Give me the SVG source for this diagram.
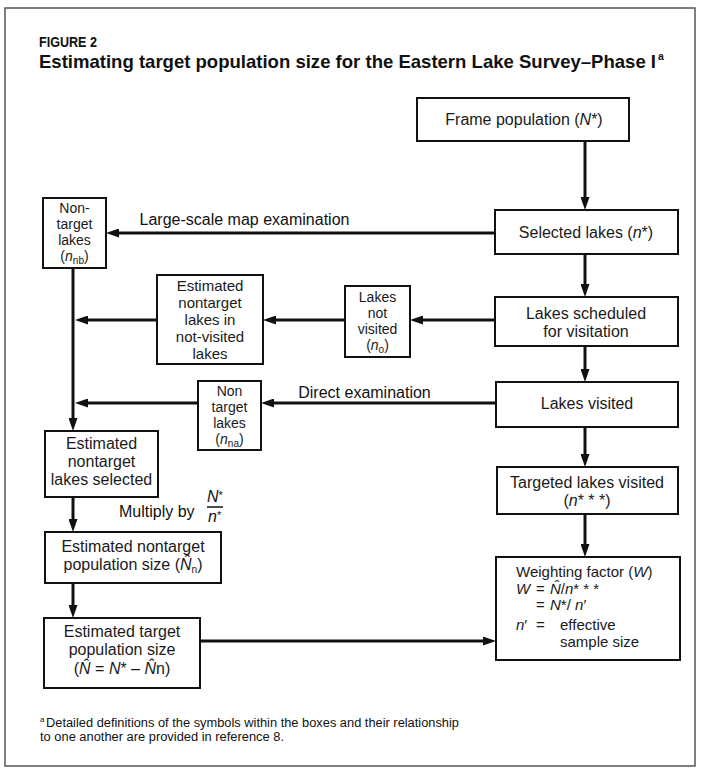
<svg xmlns="http://www.w3.org/2000/svg" width="702" height="768" viewBox="0 0 702 768">
<style>
.t{font-family:"Liberation Sans",Arial,Helvetica,sans-serif;font-size:16px;fill:#1a1a1a;text-anchor:middle}
.s{font-size:15px}
.xs{font-size:14px}
.l{font-family:"Liberation Sans",Arial,Helvetica,sans-serif;font-size:15px;fill:#1a1a1a}
.lab{font-family:"Liberation Sans",Arial,Helvetica,sans-serif;font-size:16px;fill:#111}
.i{font-style:italic}
.sub{font-size:10px}
.box{fill:#fff;stroke:#111;stroke-width:2}
.c{fill:none;stroke:#111;stroke-width:3;marker-end:url(#ah)}
.h{font-family:"Liberation Sans",Arial,Helvetica,sans-serif;font-weight:bold;fill:#111}
.fn{font-family:"Liberation Sans",Arial,Helvetica,sans-serif;font-size:12px;fill:#111}
</style>
<defs>
<marker id="ah" markerUnits="userSpaceOnUse" viewBox="0 0 13 9" markerWidth="13" markerHeight="9" refX="0.5" refY="4.5" orient="auto">
<path d="M0,0 L13,4.5 L0,9 Z" fill="#111"/>
</marker>
</defs>
<rect x="0" y="0" width="702" height="768" fill="#fff"/>
<rect x="5" y="8" width="690" height="758" fill="none" stroke="#555" stroke-width="1.5"/>

<g id="title">
<text class="h" x="39" y="47" font-size="14" textLength="58" lengthAdjust="spacingAndGlyphs">FIGURE 2</text>
<text class="h" x="39" y="68" font-size="18.5" textLength="617" lengthAdjust="spacingAndGlyphs">Estimating target population size for the Eastern Lake Survey–Phase I</text>
<text class="h" x="658" y="60" font-size="10.5">a</text>
</g>

<g id="connectors">
<path class="c" d="M585,141 V197.5"/>
<path class="c" d="M585,254 V284.5"/>
<path class="c" d="M585,346 V369.5"/>
<path class="c" d="M585,427 V454.5"/>
<path class="c" d="M585,514 V544.5"/>
<path class="c" d="M495,233 H118.5"/>
<path class="c" d="M495,320 H422.5"/>
<path class="c" d="M345,320 H275.5"/>
<path class="c" d="M157,320 H87.5"/>
<path class="c" d="M496,403 H273.5"/>
<path class="c" d="M198,403 H87.5"/>
<path class="c" d="M73,268 V418.5"/>
<path class="c" d="M73,497 V519.5"/>
<path class="c" d="M73,583 V605.5"/>
<path class="c" d="M200,641 H483.5"/>
<text class="lab" x="244.5" y="225" text-anchor="middle">Large-scale map examination</text>
<text class="lab" x="364.5" y="398" text-anchor="middle">Direct examination</text>
<g id="multiply">
<text class="lab" x="119" y="517">Multiply by</text>
<text class="lab i" x="207" y="502" font-size="15">N<tspan font-style="normal" font-size="11" dy="-3">*</tspan></text>
<line x1="207" y1="507" x2="223" y2="507" stroke="#111" stroke-width="1.5"/>
<text class="lab i" x="208" y="522" font-size="15">n<tspan font-style="normal" font-size="11" dy="-3">*</tspan></text>
</g>
</g>

<g id="frame-population">
<rect class="box" x="417" y="98" width="212" height="43"/>
<text class="t" x="524" y="125">Frame population (<tspan class="i">N</tspan>*)</text>
</g>

<g id="selected-lakes">
<rect class="box" x="495" y="210" width="183" height="44"/>
<text class="t" x="586" y="238">Selected lakes (<tspan class="i">n</tspan>*)</text>
</g>

<g id="lakes-scheduled">
<rect class="box" x="495" y="297" width="183" height="49"/>
<text class="t"><tspan x="586" y="319">Lakes scheduled</tspan><tspan x="586" y="337">for visitation</tspan></text>
</g>

<g id="lakes-visited">
<rect class="box" x="496" y="382" width="182" height="45"/>
<text class="t" x="587" y="409">Lakes visited</text>
</g>

<g id="targeted-lakes-visited">
<rect class="box" x="497" y="467" width="181" height="47"/>
<text class="t"><tspan x="587" y="488">Targeted lakes visited</tspan><tspan x="587" y="506">(<tspan class="i">n</tspan>* * *)</tspan></text>
</g>

<g id="weighting-factor">
<rect class="box" x="496" y="557" width="184" height="103"/>
<text class="l"><tspan x="516" y="577">Weighting factor (<tspan class="i">W</tspan>)</tspan><tspan x="516" y="593.5" class="i">W</tspan><tspan x="536" y="593.5">=</tspan><tspan x="550" y="593.5" class="i">N̂</tspan><tspan>/</tspan><tspan class="i">n</tspan><tspan>* * *</tspan><tspan x="536" y="610">=</tspan><tspan x="550" y="610" class="i">N</tspan><tspan>*/ </tspan><tspan class="i">n</tspan><tspan>′</tspan><tspan x="516" y="630" class="i">n</tspan><tspan>′</tspan><tspan x="536" y="630">=</tspan><tspan x="560" y="630">effective</tspan><tspan x="560" y="646.5">sample size</tspan></text>
</g>

<g id="lakes-not-visited">
<rect class="box" x="345" y="286" width="65" height="71"/>
<text class="t xs"><tspan x="377.5" y="302">Lakes</tspan><tspan x="377.5" y="318">not</tspan><tspan x="377.5" y="334">visited</tspan><tspan x="377.5" y="350">(<tspan class="i">n</tspan><tspan class="sub" dy="2.5">o</tspan><tspan dy="-2.5">)</tspan></tspan></text>
</g>

<g id="estimated-nontarget-not-visited">
<rect class="box" x="157" y="275" width="106" height="89"/>
<text class="t s"><tspan x="210" y="291">Estimated</tspan><tspan x="210" y="308">nontarget</tspan><tspan x="210" y="325">lakes in</tspan><tspan x="210" y="342">not-visited</tspan><tspan x="210" y="359">lakes</tspan></text>
</g>

<g id="nontarget-lakes-nb">
<rect class="box" x="43" y="198" width="63" height="70"/>
<text class="t xs"><tspan x="74.5" y="213">Non-</tspan><tspan x="74.5" y="229">target</tspan><tspan x="74.5" y="245">lakes</tspan><tspan x="74.5" y="261">(<tspan class="i">n</tspan><tspan class="sub" dy="2.5">nb</tspan><tspan dy="-2.5">)</tspan></tspan></text>
</g>

<g id="nontarget-lakes-na">
<rect class="box" x="198" y="381" width="63" height="69"/>
<text class="t xs"><tspan x="229.5" y="396">Non</tspan><tspan x="229.5" y="412">target</tspan><tspan x="229.5" y="428">lakes</tspan><tspan x="229.5" y="444">(<tspan class="i">n</tspan><tspan class="sub" dy="2.5">na</tspan><tspan dy="-2.5">)</tspan></tspan></text>
</g>

<g id="estimated-nontarget-selected">
<rect class="box" x="45" y="431" width="113" height="66"/>
<text class="t"><tspan x="101.5" y="449">Estimated</tspan><tspan x="101.5" y="467">nontarget</tspan><tspan x="101.5" y="485">lakes selected</tspan></text>
</g>

<g id="estimated-nontarget-population">
<rect class="box" x="45" y="532" width="176" height="51"/>
<text class="t"><tspan x="133" y="552">Estimated nontarget</tspan><tspan x="133" y="570">population size (<tspan class="i">N̂</tspan><tspan class="sub" dy="3">n</tspan><tspan dy="-3">)</tspan></tspan></text>
</g>

<g id="estimated-target-population">
<rect class="box" x="44" y="618" width="156" height="70"/>
<text class="t"><tspan x="122" y="637">Estimated target</tspan><tspan x="122" y="655">population size</tspan><tspan x="122" y="674">(<tspan class="i">N̂</tspan> = <tspan class="i">N</tspan>*  –  <tspan class="i">N̂</tspan>n)</tspan></text>
</g>

<g id="footnote">
<text class="fn"><tspan x="40" y="722" font-size="8">a</tspan><tspan x="46" y="727" textLength="413" lengthAdjust="spacingAndGlyphs">Detailed definitions of the symbols within the boxes and their relationship</tspan><tspan x="40" y="741" textLength="244" lengthAdjust="spacingAndGlyphs">to one another are provided in reference 8.</tspan></text>
</g>
</svg>
